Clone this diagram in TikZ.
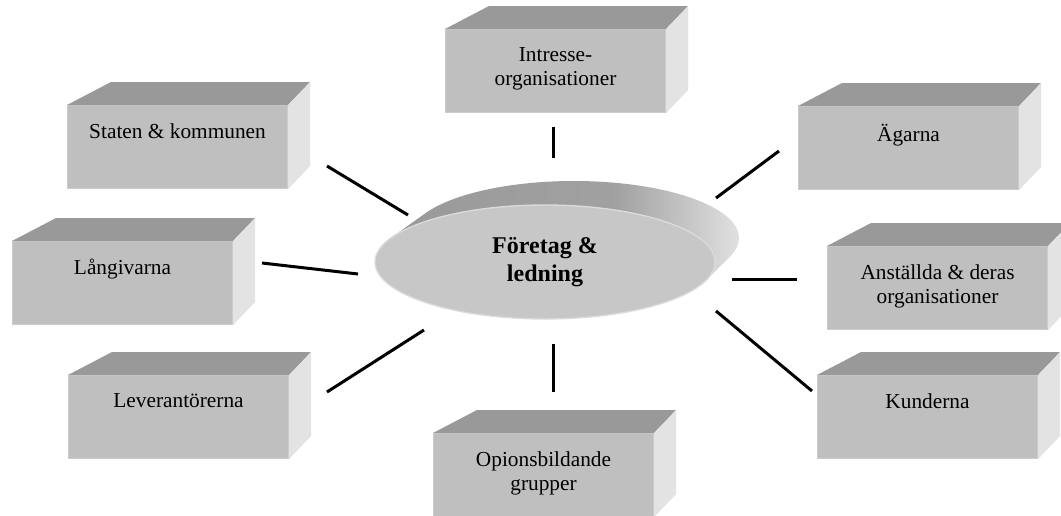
\documentclass[tikz,border=0pt]{standalone}
\usepackage{fontspec}
\setmainfont{Liberation Serif}
\usetikzlibrary{shapes.geometric}

\pgfdeclarehorizontalshading{sida}{100bp}{color(0bp)=(black!40); color(25bp)=(black!40); color(58bp)=(black!37); color(75bp)=(black!12); color(100bp)=(black!12)}

\tikzset{
  framsida/.style={rectangle, fill=black!25, draw=black!20, line width=0.8pt,
    minimum width=165pt, minimum height=62.25pt, inner sep=0pt, anchor=north west},
  ovansida/.style={fill=black!40},
  hogersida/.style={fill=black!11},
  klosstext/.style={anchor=north, inner sep=0pt, align=center,
    font=\fontsize{16}{18}\selectfont},
  mitten/.style={ellipse, fill=black!22, draw=black!14, line width=1pt,
    minimum width=255pt, minimum height=85.5pt, inner sep=0pt, align=center,
    font=\fontsize{18}{20.5}\selectfont\bfseries},
  linje/.style={black, line width=2.25pt}
}

% kloss: namn, x, y (framsidans övre vänstra hörn), text
\newcommand{\kloss}[4]{%
  \node[framsida] (#1) at (#2,#3) {};
  \fill[ovansida] (#1.north west) -- ++(44,-23) -- ([shift={(22,-23)}]#1.north east) -- (#1.north east) -- cycle;
  \fill[hogersida] (#1.north east) -- ++(22,-23) -- ([shift={(22,-23)}]#1.south east) -- (#1.south east) -- cycle;
  \node[klosstext] (#1-text) at ([yshift=-13.5pt]#1.north) {#4};
}

\begin{document}
\begin{tikzpicture}[x=0.75pt, y=-0.75pt]
  \useasboundingbox (0,0) rectangle (1061,515);

  % klossarna runt om
  \kloss{intresse}{445}{29}{Intresse-\\organisationer}
  \kloss{staten}{67}{105}{Staten \& kommunen}
  \kloss{agarna}{798}{106}{Ägarna}
  \kloss{langivarna}{12}{241}{Långivarna}
  \kloss{anstallda}{827}{246}{Anställda \& deras\\organisationer}
  \kloss{leverantorer}{68}{375}{Leverantörerna}
  \kloss{kunderna}{817}{375}{Kunderna}
  \kloss{opinion}{433}{433}{Opionsbildande\\grupper}

  % skivan i mitten
  \shade[shading=sida]
    foreach \t in {0,0.04,...,1} {(545+29*\t,262-24*\t) ellipse [x radius=170-5*\t, y radius=57]};
  \node[mitten] (foretag) at (545,262) {Företag \&\\ledning};

  % linjerna
  \coordinate (intresse-a) at (553,127);   \coordinate (intresse-b) at (553,158);
  \coordinate (staten-a) at (327,166);     \coordinate (staten-b) at (408,215);
  \coordinate (agarna-a) at (779,151);     \coordinate (agarna-b) at (716,198);
  \coordinate (langivarna-a) at (262,263); \coordinate (langivarna-b) at (358,274);
  \coordinate (anstallda-a) at (797,279);  \coordinate (anstallda-b) at (732,279);
  \coordinate (lev-a) at (327,392);        \coordinate (lev-b) at (424,330);
  \coordinate (opinion-a) at (553,392);    \coordinate (opinion-b) at (553,344);
  \coordinate (kunderna-a) at (812,391);   \coordinate (kunderna-b) at (716,311);

  \draw[linje] (intresse-a) -- (intresse-b);
  \draw[linje] (staten-a) -- (staten-b);
  \draw[linje] (agarna-a) -- (agarna-b);
  \draw[linje] (langivarna-a) -- (langivarna-b);
  \draw[linje] (anstallda-a) -- (anstallda-b);
  \draw[linje] (lev-a) -- (lev-b);
  \draw[linje] (opinion-a) -- (opinion-b);
  \draw[linje] (kunderna-a) -- (kunderna-b);
\end{tikzpicture}
\end{document}
